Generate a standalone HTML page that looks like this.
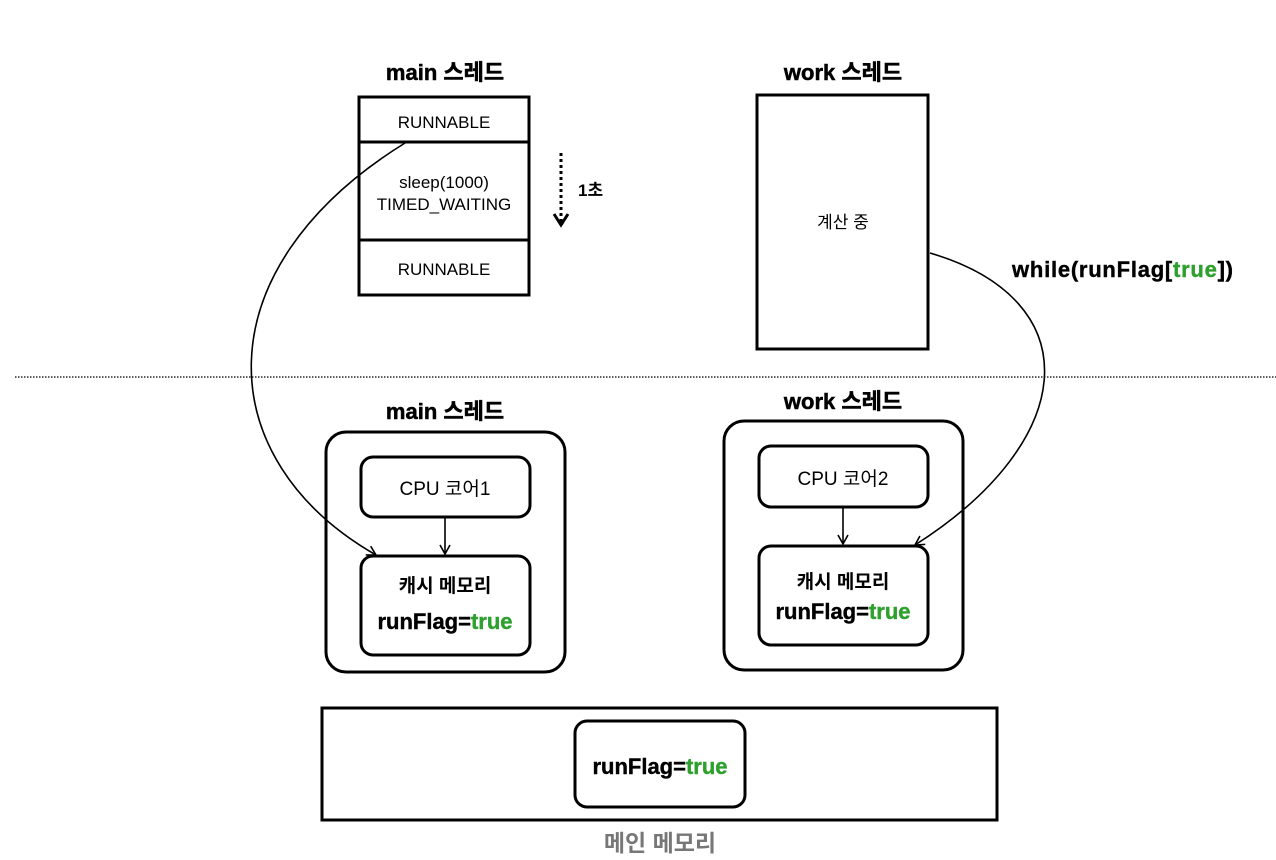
<!DOCTYPE html>
<html><head><meta charset="utf-8"><style>
html,body{margin:0;padding:0;background:#fff;}
svg{display:block;font-family:"Liberation Sans","Noto Sans CJK KR",sans-serif;}
</style></head><body>
<svg width="1276" height="860" viewBox="0 0 1276 860" xmlns="http://www.w3.org/2000/svg">
<defs>
<marker id="ah" markerWidth="12" markerHeight="12" refX="10" refY="6" orient="auto" markerUnits="userSpaceOnUse">
<path d="M1,1 L10,6 L1,11" fill="none" stroke="#000" stroke-width="1.6"/>
</marker>
</defs>
<g font-weight="bold" font-size="22" text-anchor="middle" fill="#000" stroke="#000" stroke-width="0.5">
<text x="445" y="80">main 스레드</text>
<text x="843" y="80">work 스레드</text>
<text x="445" y="419">main 스레드</text>
<text x="843" y="409">work 스레드</text>
</g>
<rect x="359" y="97" width="170" height="198" fill="#fff" stroke="#000" stroke-width="3"/>
<line x1="359" y1="142" x2="529" y2="142" stroke="#000" stroke-width="3"/>
<line x1="359" y1="240" x2="529" y2="240" stroke="#000" stroke-width="3"/>
<g font-size="17" text-anchor="middle">
<text x="444" y="128">RUNNABLE</text>
<text x="444" y="188">sleep(1000)</text>
<text x="444" y="210">TIMED_WAITING</text>
<text x="444" y="275">RUNNABLE</text>
</g>
<line x1="561" y1="153" x2="561" y2="222" stroke="#000" stroke-width="3" stroke-dasharray="3,3"/>
<path d="M554,214 L561,225 L568,214" fill="none" stroke="#000" stroke-width="3"/>
<text x="578" y="196" font-size="17" font-weight="bold">1초</text>
<rect x="757" y="95" width="171" height="254" fill="#fff" stroke="#000" stroke-width="3"/>
<text x="843" y="228" font-size="17" text-anchor="middle">계산 중</text>
<text x="1012" y="277" font-size="22" font-weight="bold" textLength="221" stroke="#000" stroke-width="0.4">while(runFlag[<tspan fill="#2ea02e" stroke="#2ea02e">true</tspan>])</text>
<line x1="15" y1="377" x2="1276" y2="377" stroke="#000" stroke-width="1.2" stroke-dasharray="1.5,1.5"/>
<rect x="326" y="432" width="239" height="240" rx="20" fill="#fff" stroke="#000" stroke-width="3"/>
<rect x="361" y="457" width="169" height="60" rx="12" fill="#fff" stroke="#000" stroke-width="3"/>
<text x="445" y="495" font-size="19" text-anchor="middle">CPU 코어1</text>
<line x1="445" y1="517" x2="445" y2="554" stroke="#000" stroke-width="1.6" marker-end="url(#ah)"/>
<rect x="361" y="556" width="169" height="99" rx="12" fill="#fff" stroke="#000" stroke-width="3"/>
<text x="445" y="592" font-size="19" font-weight="bold" text-anchor="middle">캐시 메모리</text>
<text x="445" y="629" font-size="22" font-weight="bold" text-anchor="middle" stroke="#000" stroke-width="0.4">runFlag=<tspan fill="#2ea02e" stroke="#2ea02e">true</tspan></text>
<rect x="724" y="421" width="239" height="249" rx="20" fill="#fff" stroke="#000" stroke-width="3"/>
<rect x="759" y="446" width="169" height="61" rx="12" fill="#fff" stroke="#000" stroke-width="3"/>
<text x="843" y="485" font-size="19" text-anchor="middle">CPU 코어2</text>
<line x1="843" y1="507" x2="843" y2="544" stroke="#000" stroke-width="1.6" marker-end="url(#ah)"/>
<rect x="759" y="546" width="169" height="99" rx="12" fill="#fff" stroke="#000" stroke-width="3"/>
<text x="843" y="588" font-size="19" font-weight="bold" text-anchor="middle">캐시 메모리</text>
<text x="843" y="619" font-size="22" font-weight="bold" text-anchor="middle" stroke="#000" stroke-width="0.4">runFlag=<tspan fill="#2ea02e" stroke="#2ea02e">true</tspan></text>
<rect x="322" y="708" width="675" height="112" fill="#fff" stroke="#000" stroke-width="3"/>
<rect x="575" y="721" width="170" height="86" rx="12" fill="#fff" stroke="#000" stroke-width="3"/>
<text x="660" y="774" font-size="22" font-weight="bold" text-anchor="middle" stroke="#000" stroke-width="0.4">runFlag=<tspan fill="#2ea02e" stroke="#2ea02e">true</tspan></text>
<text x="660" y="851" font-size="23" font-weight="bold" fill="#777" text-anchor="middle">메인 메모리</text>
<path d="M405,143 C200,270 210,460 376,555" fill="none" stroke="#000" stroke-width="1.6" marker-end="url(#ah)"/>
<path d="M930,253 C1090,300 1080,440 915,545" fill="none" stroke="#000" stroke-width="1.6" marker-end="url(#ah)"/>
</svg>
</body></html>
